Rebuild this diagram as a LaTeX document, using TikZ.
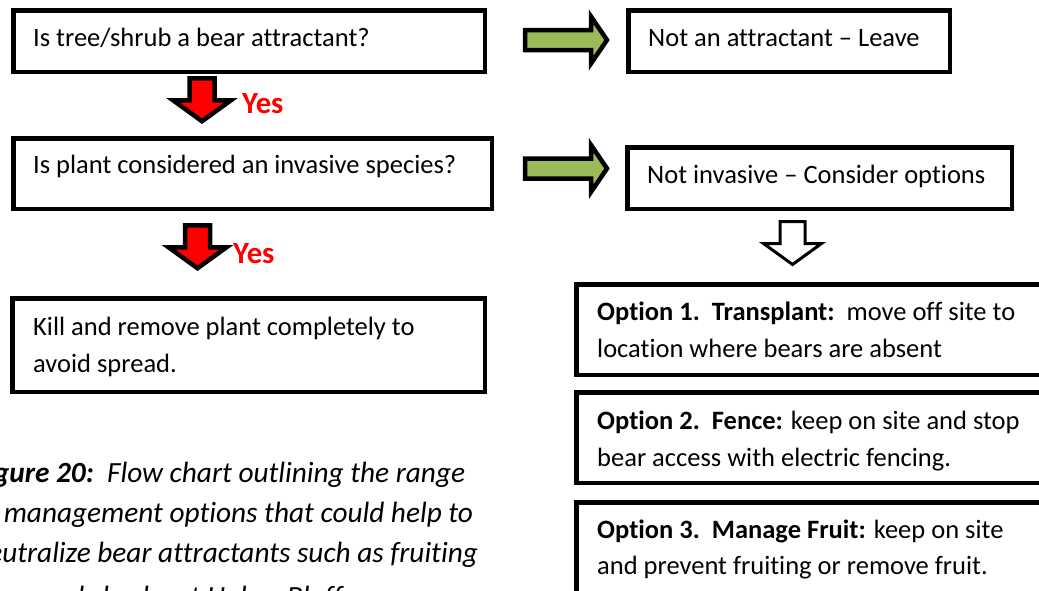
\documentclass[tikz,border=0pt]{standalone}
\usepackage{fontspec}
\setmainfont{Carlito}[Ligatures={TeX,NoCommon}]
\definecolor{arrgreen}{HTML}{9BBB59}
\begin{document}
\begin{tikzpicture}[x=1pt,y=-1pt,
  box/.style={draw=black, line width=4.5pt, inner sep=0pt, anchor=north west, rectangle},
  txt/.style={anchor=base west, inner sep=0pt, font=\fontsize{26.5}{37}\selectfont},
  yes/.style={anchor=base west, inner sep=0pt, text=red, font=\fontsize{30.8}{36}\selectfont\bfseries},
  captxt/.style={anchor=base west, inner sep=0pt, font=\fontsize{29.3}{40}\selectfont\itshape},
  downarr/.pic={\path[pic actions] (-12.5,0) -- (12.5,0) -- (12.5,22) -- (29,22) -- (0,43) -- (-29,22) -- (-12.5,22) -- cycle;},
  rightarr/.pic={\path[pic actions] (0,-10) -- (66,-10) -- (66,-23.5) -- (82,0) -- (66,23.5) -- (66,10) -- (0,10) -- cycle;},
  redarr/.style={fill=red, draw=black, line width=4.5pt, miter limit=10},
  greenarr/.style={fill=arrgreen, draw=black, line width=4.5pt, miter limit=10},
  whitearr/.style={fill=white, draw=black, line width=3pt, miter limit=10}
]
\useasboundingbox (0,0) rectangle (1039,590);
\clip (0,0) rectangle (1039,590);
\fill[white] (0,0) rectangle (1039,590);

% left column
\node[box, minimum width=471.5pt, minimum height=61.5pt] (b1) at (11.25,8.25) {};
\node[txt] (t1) at (33,46) {Is tree/shrub a bear attractant?};

\pic[redarr] (a1) at (202,78.25) {downarr};
\node[yes] (y1) at (242,113) {Yes};

\node[box, minimum width=478.5pt, minimum height=70.5pt] (b2) at (11.25,136.25) {};
\node[txt] (t2) at (33,173) {Is plant considered an invasive species?};

\pic[redarr] (a2) at (197.5,225.25) {downarr};
\node[yes] (y2) at (233,263) {Yes};

\node[box, minimum width=472.5pt, minimum height=93.5pt] (b3) at (10.25,296.25) {};
\node[txt] (t3a) at (33,335) {Kill and remove plant completely to};
\node[txt] (t3b) at (33,372) {avoid spread.};

% caption
\node[captxt] (c1) at (-27,482) {\textbf{Figure 20:}\ \ Flow chart outlining the range};
\node[captxt] (c2) at (-27,522) {of management options that could help to};
\node[captxt] (c3) at (-27,562) {neutralize bear attractants such as fruiting};
\node[captxt] (c4) at (-27,606) {trees and shrubs at Habor Bluffs.};

% right column
\pic[greenarr] (g1) at (525,40) {rightarr};
\node[box, minimum width=321.5pt, minimum height=61.5pt] (r1) at (626.25,8.25) {};
\node[txt] (tr1) at (648,46) {Not an attractant -- Leave};

\pic[greenarr] (g2) at (525,168.5) {rightarr};
\node[box, minimum width=384.5pt, minimum height=61.5pt] (r2) at (625.25,145.25) {};
\node[txt] (tr2) at (647,183) {Not invasive -- Consider options};

\pic[whitearr] (w1) at (792.5,221.5) {downarr};

\node[box, minimum width=500pt, minimum height=90.5pt] (o1) at (574.25,282.25) {};
\node[txt] (to1a) at (597,320) {\textbf{Option 1.\ \ Transplant:}\ \ move off site to};
\node[txt] (to1b) at (597,357) {location where bears are absent};

\node[box, minimum width=500pt, minimum height=90.5pt] (o2) at (574.25,390.25) {};
\node[txt] (to2a) at (597,429) {\textbf{Option 2.\ \ Fence:} keep on site and stop};
\node[txt] (to2b) at (597,466) {bear access with electric fencing.};

\node[box, minimum width=500pt, minimum height=90.5pt] (o3) at (574.25,500.25) {};
\node[txt] (to3a) at (597,538) {\textbf{Option 3.\ \ Manage Fruit:} keep on site};
\node[txt] (to3b) at (597,574) {and prevent fruiting or remove fruit.};
\end{tikzpicture}
\end{document}
